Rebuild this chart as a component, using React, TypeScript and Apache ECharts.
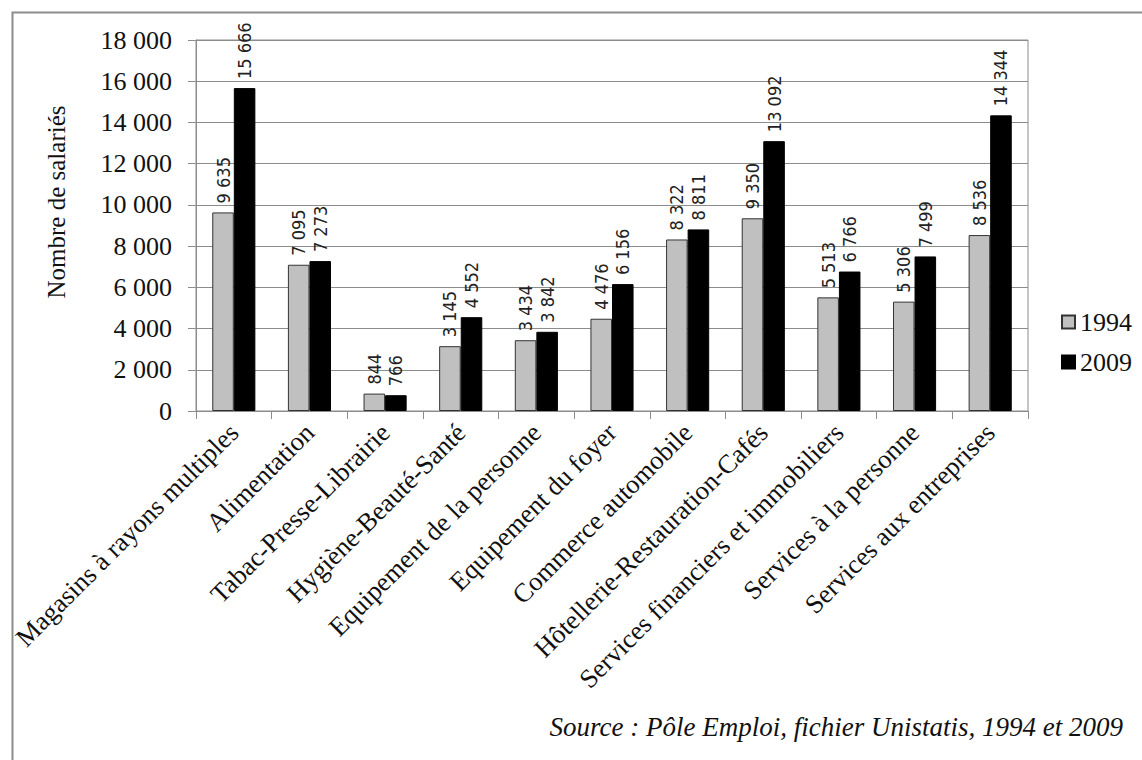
import React, { useEffect, useRef } from "react";
import * as echarts from "echarts";

const categories = [
  "Magasins à rayons multiples",
  "Alimentation",
  "Tabac-Presse-Librairie",
  "Hygiène-Beauté-Santé",
  "Equipement de la personne",
  "Equipement du foyer",
  "Commerce automobile",
  "Hôtellerie-Restauration-Cafés",
  "Services financiers et immobiliers",
  "Services à la personne",
  "Services aux entreprises",
];
const values1994 = [9635, 7095, 844, 3145, 3434, 4476, 8322, 9350, 5513, 5306, 8536];
const values2009 = [15666, 7273, 766, 4552, 3842, 6156, 8811, 13092, 6766, 7499, 14344];
const seriesNames = ["1994", "2009"];
const yTicks = { min: 0, max: 18000, interval: 2000 };
const yAxisTitle = "Nombre de salariés";
const sourceText = "Source : Pôle Emploi, fichier Unistatis, 1994 et 2009";

const fmt = (v: number) => String(v).replace(/\B(?=(\d{3})+(?!\d))/g, " ");
const serif = "'Liberation Serif', 'Times New Roman', serif";
const labelFont = "'DejaVu Sans Condensed', 'DejaVu Sans', sans-serif";

export default function App() {
  const ref = useRef<HTMLDivElement>(null);
  useEffect(() => {
    if (!ref.current) return;
    const chart = echarts.init(ref.current, null, { renderer: "svg" });
    const barLabel = {
      show: true,
      position: "top" as const,
      rotate: 90,
      align: "left" as const,
      verticalAlign: "middle" as const,
      distance: 9,
      fontFamily: labelFont,
      fontSize: 18,
      fontWeight: "lighter" as const,
      color: "#222",
      formatter: (p: any) => fmt(p.value),
    };
    chart.setOption({
      animation: false,
      backgroundColor: "#ffffff",
      grid: {
        left: 196,
        top: 40,
        right: 114,
        bottom: 349,
        show: true,
        borderColor: "#8c8c8c",
        borderWidth: 1,
      },
      legend: {
        orient: "vertical",
        left: 1056,
        top: 304,
        itemWidth: 13,
        itemHeight: 13,
        itemGap: 14,
        icon: "rect",
        textStyle: { fontFamily: serif, fontSize: 26, color: "#111", lineHeight: 26 },
        data: seriesNames,
      },
      xAxis: {
        type: "category",
        data: categories,
        axisLine: { lineStyle: { color: "#8c8c8c", width: 1 } },
        axisTick: { show: true, length: 8, alignWithLabel: false, lineStyle: { color: "#8c8c8c" } },
        axisLabel: {
          interval: 0,
          rotate: 45,
          margin: 17,
          fontFamily: serif,
          fontSize: 26.5,
          color: "#111",
        },
      },
      yAxis: {
        type: "value",
        min: yTicks.min,
        max: yTicks.max,
        interval: yTicks.interval,
        axisLine: { show: true, lineStyle: { color: "#8c8c8c", width: 1 } },
        axisTick: { show: true, length: 8, lineStyle: { color: "#8c8c8c" } },
        splitLine: { show: true, lineStyle: { color: "#8c8c8c", width: 1 } },
        axisLabel: {
          margin: 24,
          fontFamily: serif,
          fontSize: 26,
          color: "#111",
          formatter: (v: number) => fmt(v),
        },
      },
      series: [
        {
          name: seriesNames[0],
          type: "bar",
          data: values1994,
          barGap: "0%",
          barCategoryGap: "43%",
          itemStyle: { color: "#c0c0c0", borderColor: "#333333", borderWidth: 1 },
          label: barLabel,
        },
        {
          name: seriesNames[1],
          type: "bar",
          data: values2009,
          barGap: "0%",
          barCategoryGap: "43%",
          itemStyle: { color: "#000000", borderColor: "#000000", borderWidth: 1 },
          label: barLabel,
        },
      ],
      graphic: [
        {
          type: "rect",
          left: 10,
          top: 10,
          shape: { x: 0, y: 0, width: 1200, height: 800 },
          style: { fill: "none", stroke: "#8c8c8c", lineWidth: 2 },
          silent: true,
          z: -1,
        },
        {
          type: "text",
          x: 56,
          y: 202,
          rotation: Math.PI / 2,
          style: {
            text: yAxisTitle,
            fontFamily: serif,
            fontSize: 25,
            fill: "#111",
            align: "center",
            verticalAlign: "middle",
          },
        },
        {
          type: "text",
          x: 1123,
          y: 727,
          style: {
            text: sourceText,
            fontFamily: serif,
            fontStyle: "italic",
            fontSize: 27,
            fill: "#111",
            align: "right",
            verticalAlign: "middle",
          },
        },
      ],
    });
    return () => chart.dispose();
  }, []);
  return (
    <div
      ref={ref}
      style={{ position: "absolute", left: 0, top: 0, width: 1142, height: 760 }}
    />
  );
}
